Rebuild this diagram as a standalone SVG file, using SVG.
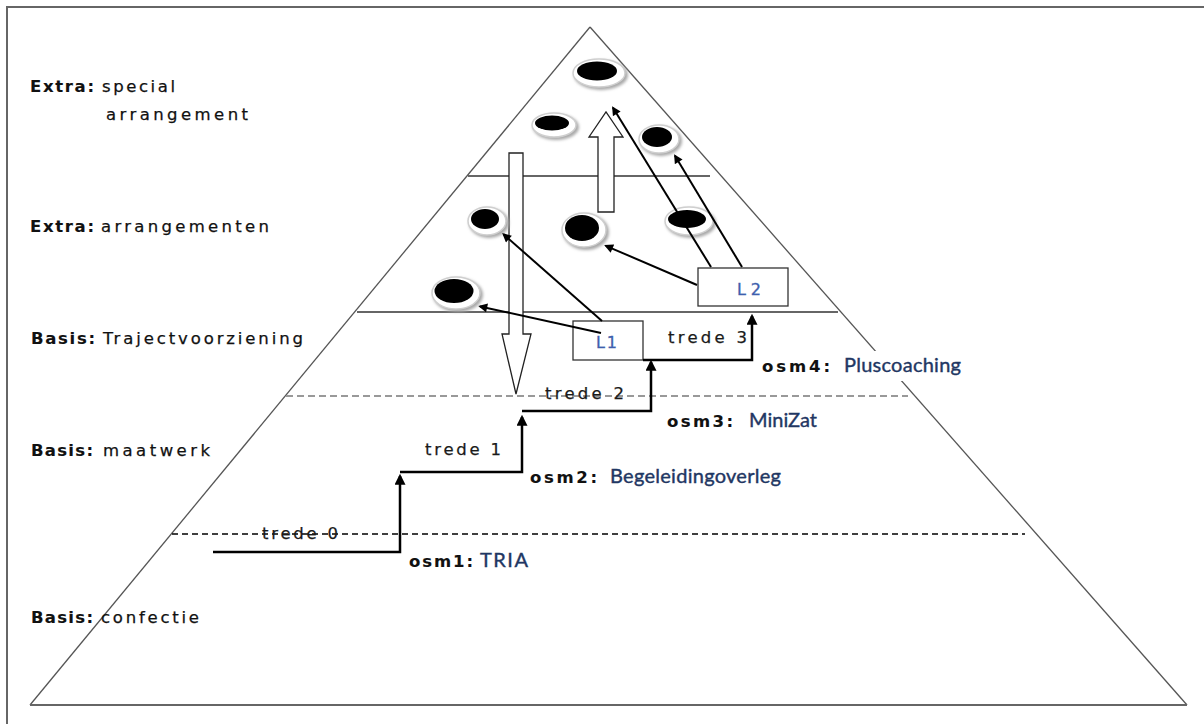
<svg xmlns="http://www.w3.org/2000/svg" width="1204" height="724" viewBox="0 0 1204 724">
<defs>
<style>
.lbl{font-family:"DejaVu Sans",Verdana,sans-serif;font-size:16.5px;fill:#111;stroke:#111;stroke-width:0.25}
.b{font-weight:bold;stroke-width:0.1}
.tr{font-family:"DejaVu Sans",Verdana,sans-serif;font-size:16.5px;fill:#1a1a1a;stroke:#1a1a1a;stroke-width:0.25}
.blue{font-family:Lato,"Open Sans",sans-serif;font-size:20px;fill:#1f3763;stroke:#1f3763;stroke-width:0.4}
.lk{font-family:"DejaVu Sans",Verdana,sans-serif;font-size:16px;fill:#3f5fae;stroke:#3f5fae;stroke-width:0.35}
.pyr{stroke:#555;stroke-width:1.3;fill:none}
.lvl{stroke:#666;stroke-width:2;fill:none}
.step{stroke:#000;stroke-width:2.5;fill:none;marker-end:url(#ah)}
.thin{stroke:#000;stroke-width:2;fill:none;marker-end:url(#ah2)}
.hollow{fill:#fff;stroke:#222;stroke-width:1.3}
.box{fill:#fff;stroke:#333;stroke-width:1.3}
.ring{fill:#fff;stroke:#cfcfcf;stroke-width:1.5}
.shd{fill:#a8a8a8;filter:url(#blur)}
</style>
<filter id="blur" x="-50%" y="-50%" width="200%" height="200%"><feGaussianBlur stdDeviation="1.6"/></filter>
<marker id="ah" viewBox="0 0 10 10" refX="8" refY="5" markerWidth="11" markerHeight="11" markerUnits="userSpaceOnUse" orient="auto"><path d="M0,0 L10,5 L0,10 z" fill="#000"/></marker>
<marker id="ah2" viewBox="0 0 10 10" refX="8" refY="5" markerWidth="10" markerHeight="9" markerUnits="userSpaceOnUse" orient="auto"><path d="M0,0 L10,5 L0,10 z" fill="#000"/></marker>
</defs>
<rect x="0" y="0" width="1204" height="724" fill="#fff"/>
<rect x="7" y="7" width="1215" height="740" fill="none" stroke="#666" stroke-width="2"/>

<g id="pyramid">
<line class="pyr" x1="590" y1="27" x2="30" y2="705"/>
<line class="pyr" x1="590" y1="27" x2="1187" y2="705"/>
<line x1="30" y1="705" x2="1187" y2="705" stroke="#666" stroke-width="2"/>
<line class="lvl" x1="468" y1="176" x2="710" y2="176"/>
<line class="lvl" x1="357" y1="312" x2="838" y2="312"/>
<line x1="286" y1="396" x2="908" y2="396" stroke="#999" stroke-width="2" stroke-dasharray="7,4"/>
<line x1="172" y1="534" x2="1025" y2="534" stroke="#000" stroke-width="1.5" stroke-dasharray="6,4"/>
</g>

<g id="labels">
<text class="lbl b" x="30" y="92" textLength="64" lengthAdjust="spacing">Extra:</text>
<text class="lbl" x="102" y="92" textLength="73" lengthAdjust="spacing">special</text>
<text class="lbl" x="106" y="120" textLength="142" lengthAdjust="spacing">arrangement</text>
<text class="lbl b" x="30" y="232" textLength="64" lengthAdjust="spacing">Extra:</text>
<text class="lbl" x="101" y="232" textLength="168" lengthAdjust="spacing">arrangementen</text>
<text class="lbl b" x="31" y="344" textLength="64" lengthAdjust="spacing">Basis:</text>
<text class="lbl" x="103" y="344" textLength="200" lengthAdjust="spacing">Trajectvoorziening</text>
<text class="lbl b" x="31" y="456" textLength="62" lengthAdjust="spacing">Basis:</text>
<text class="lbl" x="103" y="456" textLength="107" lengthAdjust="spacing">maatwerk</text>
<text class="lbl b" x="31" y="623" textLength="62" lengthAdjust="spacing">Basis:</text>
<text class="lbl" x="101" y="623" textLength="98" lengthAdjust="spacing">confectie</text>
</g>

<g id="hollow-arrows">
<polygon class="hollow" points="509,153 523,153 523,334 531,334 516,394 502,334 509,334"/>
<polygon class="hollow" points="598,212 614,212 614,137 623,137 606,112 589,137 598,137"/>
</g>

<g id="dots">
<g id="dot1"><ellipse class="shd" cx="601" cy="75" rx="27" ry="15"/><ellipse class="ring" cx="599" cy="73" rx="26" ry="14"/><ellipse cx="597" cy="71" rx="20" ry="9.5"/></g>
<g id="dot2"><ellipse class="shd" cx="556" cy="127" rx="23" ry="13"/><ellipse class="ring" cx="554" cy="125" rx="22" ry="12"/><ellipse cx="552" cy="123" rx="17" ry="7.5"/></g>
<g id="dot3"><ellipse class="shd" cx="661" cy="141" rx="21" ry="15"/><ellipse class="ring" cx="659" cy="139" rx="20" ry="14"/><ellipse cx="657" cy="137" rx="15" ry="10"/></g>
<g id="dot4"><ellipse class="shd" cx="489" cy="223" rx="20" ry="15"/><ellipse class="ring" cx="487" cy="221" rx="19" ry="14"/><ellipse cx="485" cy="219" rx="14" ry="10"/></g>
<g id="dot5"><ellipse class="shd" cx="586" cy="232" rx="23" ry="18"/><ellipse class="ring" cx="584" cy="230" rx="22" ry="17"/><ellipse cx="582" cy="228" rx="17" ry="13"/></g>
<g id="dot6"><ellipse class="shd" cx="691" cy="223" rx="25" ry="15"/><ellipse class="ring" cx="689" cy="221" rx="24" ry="14"/><ellipse cx="687" cy="219" rx="19" ry="9"/></g>
<g id="dot7"><ellipse class="shd" cx="458" cy="295" rx="25" ry="17"/><ellipse class="ring" cx="456" cy="293" rx="24" ry="16"/><ellipse cx="454" cy="291" rx="19.5" ry="12"/></g>
</g>

<g id="boxL1"><rect class="box" x="573" y="321" width="70" height="39"/><text class="lk" x="596" y="348" textLength="21" lengthAdjust="spacing">L1</text></g>
<g id="boxL2"><rect class="box" x="698" y="268" width="90" height="38"/><text class="lk" x="737" y="295" textLength="24" lengthAdjust="spacing">L2</text></g>

<g id="connectors">
<path class="step" d="M213,552 H400 V476"/>
<path class="step" d="M400,472 H522 V417"/>
<path class="step" d="M522,411 H651 V362"/>
<path class="step" d="M643,360 H752 V316"/>
<path class="thin" d="M601,333 L480,306.4"/>
<path class="thin" d="M602,321 L503.5,234.3"/>
<path class="thin" d="M697,285 L605.8,245.8"/>
<path class="thin" d="M711,267 L613,107.7"/>
<path class="thin" d="M742,267 L675,155.7"/>
</g>

<g id="steps-text">
<text class="tr" x="262" y="539" textLength="76" lengthAdjust="spacing">trede 0</text>
<text class="tr" x="425" y="455" textLength="76" lengthAdjust="spacing">trede 1</text>
<text class="tr" x="545" y="399" textLength="79" lengthAdjust="spacing">trede 2</text>
<text class="tr" x="668" y="343" textLength="79" lengthAdjust="spacing">trede 3</text>
</g>

<g id="osm">
<text class="lbl b" x="409" y="567" textLength="64" lengthAdjust="spacing">osm1:</text>
<text class="blue" x="480" y="567" textLength="48" lengthAdjust="spacing">TRIA</text>
<text class="lbl b" x="530" y="483" textLength="67" lengthAdjust="spacing">osm2:</text>
<text class="blue" x="610" y="483" textLength="171" lengthAdjust="spacing">Begeleidingoverleg</text>
<text class="lbl b" x="667" y="427" textLength="66" lengthAdjust="spacing">osm3:</text>
<text class="blue" x="749" y="427" textLength="68" lengthAdjust="spacing">MiniZat</text>
<rect x="838" y="351" width="128" height="30" fill="#fff"/>
<text class="lbl b" x="762" y="372" textLength="68" lengthAdjust="spacing">osm4:</text>
<text class="blue" x="844" y="372" textLength="117" lengthAdjust="spacing">Pluscoaching</text>
</g>
</svg>
